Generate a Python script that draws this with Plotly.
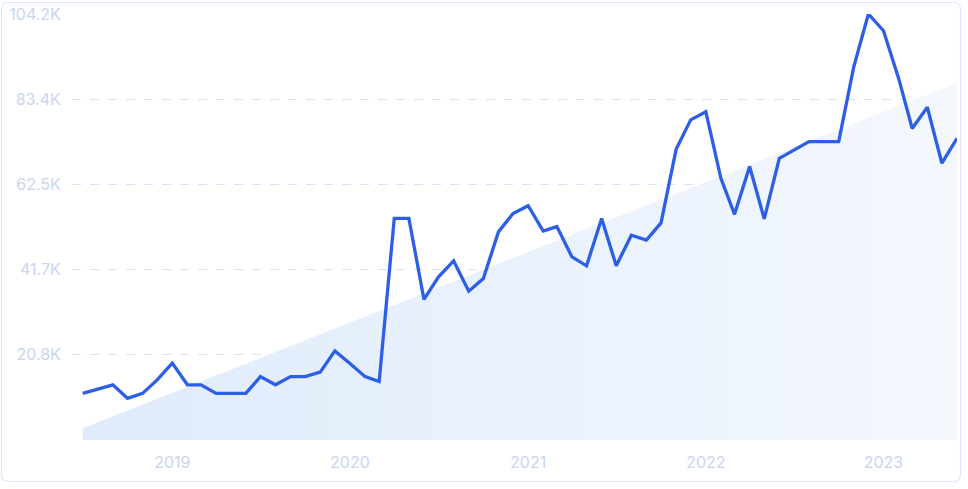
import plotly.graph_objects as go

# ---- data ----
months = [
    "2018-07-01", "2018-08-01", "2018-09-01", "2018-10-01", "2018-11-01", "2018-12-01",
    "2019-01-01", "2019-02-01", "2019-03-01", "2019-04-01", "2019-05-01", "2019-06-01",
    "2019-07-01", "2019-08-01", "2019-09-01", "2019-10-01", "2019-11-01", "2019-12-01",
    "2020-01-01", "2020-02-01", "2020-03-01", "2020-04-01", "2020-05-01", "2020-06-01",
    "2020-07-01", "2020-08-01", "2020-09-01", "2020-10-01", "2020-11-01", "2020-12-01",
    "2021-01-01", "2021-02-01", "2021-03-01", "2021-04-01", "2021-05-01", "2021-06-01",
    "2021-07-01", "2021-08-01", "2021-09-01", "2021-10-01", "2021-11-01", "2021-12-01",
    "2022-01-01", "2022-02-01", "2022-03-01", "2022-04-01", "2022-05-01", "2022-06-01",
    "2022-07-01", "2022-08-01", "2022-09-01", "2022-10-01", "2022-11-01", "2022-12-01",
    "2023-01-01", "2023-02-01", "2023-03-01", "2023-04-01", "2023-05-01", "2023-06-01",
]
searches = [
    11400, 12400, 13500, 10200, 11400, 14700,
    18800, 13500, 13500, 11400, 11400, 11400,
    15500, 13500, 15500, 15500, 16600, 21800,
    18700, 15500, 14300, 54200, 54200, 34400,
    39900, 43800, 36400, 39500, 50900, 55400,
    57300, 51100, 52200, 44800, 42600, 54200,
    42600, 50100, 48900, 53100, 71100, 78300,
    80300, 64000, 55200, 66900, 54100, 68900,
    70900, 73000, 73000, 73000, 91300, 104200,
    100100, 88500, 76200, 81400, 67700, 73800,
]

trend_months = ["2018-07-01", "2023-06-01"]
trend_values = [2900, 87400]

y_tick_values = [20840, 41680, 62520, 83360, 104200]
y_tick_labels = ["20.8K", "41.7K", "62.5K", "83.4K", "104.2K"]

x_tick_values = ["2019-01-01", "2020-01-01", "2021-01-01", "2022-01-01", "2023-01-01"]
x_tick_labels = ["2019", "2020", "2021", "2022", "2023"]

# ---- figure ----
W, H = 968, 489
ML, MR, MT, MB = 72, 11, 14, 49
PW, PH = W - ML - MR, H - MT - MB

fig = go.Figure()

fig.add_trace(go.Scatter(
    x=trend_months, y=trend_values, mode="lines",
    line=dict(width=0), fill="tozeroy",
    fillgradient=dict(type="horizontal",
                      colorscale=[[0, "rgb(223,235,251)"], [1, "rgb(244,248,254)"]]),
    hoverinfo="skip", showlegend=False,
))

fig.add_trace(go.Scatter(
    x=months, y=searches, mode="lines",
    line=dict(color="#2d5ee6", width=3.3),
    showlegend=False,
))

# rounded border around the whole chart
def px_to_paper(px, py):
    return (px - ML) / PW, (H - MB - py) / PH

def P(px, py):
    a, b = px_to_paper(px, py)
    return f"{a:.5f},{b:.5f}"

x0p, y0p, x1p, y1p, r = 1.5, 2.5, 960.5, 481.5, 7
path = (
    f"M {P(x0p + r, y0p)} L {P(x1p - r, y0p)} Q {P(x1p, y0p)} {P(x1p, y0p + r)} "
    f"L {P(x1p, y1p - r)} Q {P(x1p, y1p)} {P(x1p - r, y1p)} "
    f"L {P(x0p + r, y1p)} Q {P(x0p, y1p)} {P(x0p, y1p - r)} "
    f"L {P(x0p, y0p + r)} Q {P(x0p, y0p)} {P(x0p + r, y0p)} Z"
)
fig.add_shape(type="path", path=path, xref="paper", yref="paper",
              line=dict(color="#dce7fb", width=1.2), layer="below")

fig.update_layout(
    width=W, height=H,
    margin=dict(l=ML, r=MR, t=MT, b=MB, pad=0, autoexpand=False),
    paper_bgcolor="white", plot_bgcolor="white",
    font=dict(family="Inter, sans-serif", size=16, color="#c9d5f0"),
    xaxis=dict(
        type="date", automargin=False,
        range=["2018-06-09", "2023-06-01"],
        tickvals=x_tick_values, ticktext=x_tick_labels,
        showgrid=False, zeroline=False, showline=False,
        ticks="outside", ticklen=8, tickcolor="rgba(0,0,0,0)",
    ),
    yaxis=dict(
        automargin=False,
        range=[0, 104200],
        tickvals=y_tick_values, ticktext=y_tick_labels,
        showgrid=True, gridcolor="#d3e3fb", griddash="dash", gridwidth=1,
        zeroline=False, showline=False,
        ticks="outside", ticklen=7, tickcolor="rgba(0,0,0,0)",
    ),
    hovermode="x",
)

fig.write_html("out.html",
               config={"displayModeBar": False},
               post_script="document.body.style.margin='0';document.body.style.overflow='hidden';")
